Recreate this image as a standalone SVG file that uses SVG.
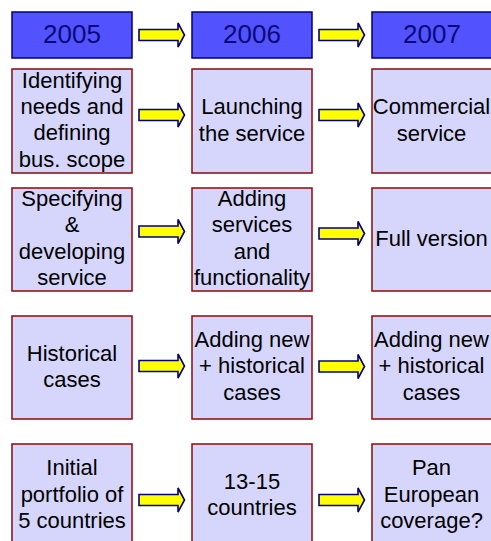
<svg xmlns="http://www.w3.org/2000/svg" xmlns:xlink="http://www.w3.org/1999/xlink" width="491" height="541" viewBox="0 0 491 541">
<style>
.hdr{fill:#5252FF;stroke:#00007A;stroke-width:1.5}
.hdrt{font-family:"Liberation Sans",Arial,sans-serif;font-size:26px;fill:#0A0A78;text-anchor:middle}
.box{fill:#D6D6FD;stroke:#8C0A0A;stroke-width:1.5}
.t{font-family:"Liberation Sans",Arial,sans-serif;font-size:22px;fill:#000;text-anchor:middle}
.arr{fill:#FFFF00;stroke:#00007F;stroke-width:1.6;stroke-linejoin:miter}
</style>
<defs>
<path id="arrow" d="M0,-5.5 L39,-5.5 L39,-12 L45.5,0 L39,12 L39,5.5 L0,5.5 Z"/>
</defs>
<rect width="491" height="541" fill="#fff"/>
<g id="h2005"><rect class="hdr" x="12" y="12" width="120" height="46"/><text class="hdrt" x="72" y="43">2005</text></g>
<g id="h2006"><rect class="hdr" x="192" y="12" width="120" height="46"/><text class="hdrt" x="252" y="43">2006</text></g>
<g id="h2007"><rect class="hdr" x="372" y="12" width="120" height="46"/><text class="hdrt" x="432" y="43">2007</text></g>

<g id="r1c1"><rect class="box" x="12" y="69" width="120" height="104"/><text class="t" x="72"><tspan x="72" y="87.5">Identifying</tspan><tspan x="72" y="113.8">needs and</tspan><tspan x="72" y="140.2">defining</tspan><tspan x="72" y="166.5">bus. scope</tspan></text></g>
<g id="r1c2"><rect class="box" x="192" y="69" width="120" height="104"/><text class="t"><tspan x="252" y="114.3">Launching</tspan><tspan x="252" y="140.5">the service</tspan></text></g>
<g id="r1c3"><rect class="box" x="372" y="69" width="120" height="104"/><text class="t"><tspan x="431.5" y="114.3">Commercial</tspan><tspan x="431.5" y="140.5">service</tspan></text></g>

<g id="r2c1"><rect class="box" x="12" y="188" width="120" height="103"/><text class="t"><tspan x="72" y="206">Specifying</tspan><tspan x="72" y="232.3">&amp;</tspan><tspan x="72" y="258.7">developing</tspan><tspan x="72" y="285">service</tspan></text></g>
<g id="r2c2"><rect class="box" x="192" y="188" width="120" height="103"/><text class="t"><tspan x="252" y="206">Adding</tspan><tspan x="252" y="232.3">services</tspan><tspan x="252" y="258.7">and</tspan><tspan x="252" y="285">functionality</tspan></text></g>
<g id="r2c3"><rect class="box" x="372" y="188" width="120" height="103"/><text class="t" x="431.5" y="246">Full version</text></g>

<g id="r3c1"><rect class="box" x="12" y="316" width="120" height="103"/><text class="t"><tspan x="72" y="361">Historical</tspan><tspan x="72" y="387">cases</tspan></text></g>
<g id="r3c2"><rect class="box" x="192" y="316" width="120" height="103"/><text class="t"><tspan x="252" y="347">Adding new</tspan><tspan x="252" y="373.4">+ historical</tspan><tspan x="252" y="399.8">cases</tspan></text></g>
<g id="r3c3"><rect class="box" x="372" y="316" width="120" height="103"/><text class="t"><tspan x="431.5" y="347">Adding new</tspan><tspan x="431.5" y="373.4">+ historical</tspan><tspan x="431.5" y="399.8">cases</tspan></text></g>

<g id="r4c1"><rect class="box" x="12" y="444" width="120" height="104"/><text class="t"><tspan x="72" y="475">Initial</tspan><tspan x="72" y="501.6">portfolio of</tspan><tspan x="72" y="528.2">5 countries</tspan></text></g>
<g id="r4c2"><rect class="box" x="192" y="444" width="120" height="104"/><text class="t"><tspan x="252" y="488.5">13-15</tspan><tspan x="252" y="515">countries</tspan></text></g>
<g id="r4c3"><rect class="box" x="372" y="444" width="120" height="104"/><text class="t"><tspan x="431.5" y="475">Pan</tspan><tspan x="431.5" y="501.6">European</tspan><tspan x="431.5" y="528.2">coverage?</tspan></text></g>

<g id="connectors">
<use xlink:href="#arrow" class="arr" x="139" y="35"/>
<use xlink:href="#arrow" class="arr" x="319" y="35"/>
<use xlink:href="#arrow" class="arr" x="139" y="115"/>
<use xlink:href="#arrow" class="arr" x="319" y="115"/>
<use xlink:href="#arrow" class="arr" x="139" y="231.5"/>
<use xlink:href="#arrow" class="arr" x="319" y="233.5"/>
<use xlink:href="#arrow" class="arr" x="139" y="366"/>
<use xlink:href="#arrow" class="arr" x="319" y="366.5"/>
<use xlink:href="#arrow" class="arr" x="139" y="500"/>
<use xlink:href="#arrow" class="arr" x="319" y="500"/>
</g>
</svg>
